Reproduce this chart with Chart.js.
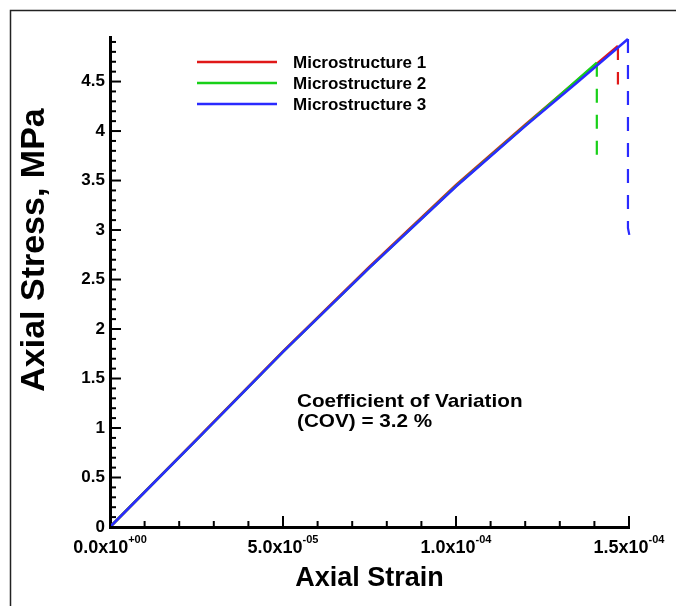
<!DOCTYPE html>
<html>
<head>
<meta charset="utf-8">
<script src="https://cdn.jsdelivr.net/npm/chart.js@4.4.1/dist/chart.umd.min.js"></script>
<style>
    html, body { margin: 0; padding: 0; background: #fff; }
</style>
</head>
<body>
<canvas id="chart" width="676" height="606"></canvas>
<script>
const seriesNames = ["Microstructure 1", "Microstructure 2", "Microstructure 3"];
const seriesColors = ["#e01818", "#18d018", "#2a2aff"];

// stress-strain curves
const strain1 = [0, 2.5e-5, 5e-5, 7.5e-5, 1.0e-4, 1.2e-4, 1.35e-4, 1.468e-4];
const stress1 = [0, 0.885, 1.775, 2.63, 3.455, 4.065, 4.51, 4.86];
const strain2 = [0, 2.5e-5, 5e-5, 7.5e-5, 1.0e-4, 1.2e-4, 1.407e-4];
const stress2 = [0, 0.88, 1.77, 2.62, 3.445, 4.055, 4.69];
const strain3 = [0, 2.5e-5, 5e-5, 7.5e-5, 1.0e-4, 1.2e-4, 1.35e-4, 1.497e-4];
const stress3 = [0, 0.88, 1.77, 2.62, 3.44, 4.05, 4.49, 4.93];

// failure drops (dashed)
const dropStrain1 = [1.468e-4, 1.468e-4];
const dropStress1 = [4.86, 4.47];
const dropStrain2 = [1.407e-4, 1.407e-4];
const dropStress2 = [4.69, 3.72];
const dropStrain3 = [1.497e-4, 1.497e-4, 1.505e-4];
const dropStress3 = [4.93, 3.02, 2.88];

const xTickValues = [0, 5e-5, 1.0e-4, 1.5e-4];
const xTickBases = ["0.0x10", "5.0x10", "1.0x10", "1.5x10"];
const xTickExps = ["+00", "-05", "-04", "-04"];

const noteLines = ["Coefficient of Variation", "(COV) = 3.2 %"];
const xTitle = "Axial Strain";
const yTitle = "Axial Stress, MPa";

const FONT = "'Liberation Sans', Arial, sans-serif";

const toPoints = (xs, ys) => xs.map((x, i) => ({ x: x, y: ys[i] }));
const isMultiple = (v, step) => Math.abs(v / step - Math.round(v / step)) < 1e-6;

// later series are drawn on top (lower order = on top in Chart.js)
const solid = (i, xs, ys) => ({
    label: seriesNames[i],
    data: toPoints(xs, ys),
    borderColor: seriesColors[i],
    borderWidth: 2.5,
    pointRadius: 0,
    tension: 0,
    clip: false,
    order: 3 - i
});
const dashed = (i, xs, ys) => ({
    label: seriesNames[i] + " drop",
    data: toPoints(xs, ys),
    borderColor: seriesColors[i],
    borderWidth: 2.2,
    borderDash: [14, 12],
    pointRadius: 0,
    tension: 0,
    clip: false,
    order: 3 - i
});

const decor = {
    id: "decor",
    beforeDraw(chart) {
        const c = chart.ctx;
        c.save();
        c.fillStyle = "#fff";
        c.fillRect(0, 0, chart.width, chart.height);
        c.strokeStyle = "#222";
        c.lineWidth = 1.5;
        c.beginPath();
        c.moveTo(10.5, chart.height);
        c.lineTo(10.5, 10.5);
        c.lineTo(chart.width, 10.5);
        c.stroke();
        c.restore();
    },
    afterDraw(chart) {
        const c = chart.ctx;
        const xs = chart.scales.x, ys = chart.scales.y, area = chart.chartArea;
        c.save();

        // inward ticks
        c.strokeStyle = "#000";
        c.lineWidth = 2;
        xs.ticks.forEach(t => {
            if (!isMultiple(t.value, 1e-5)) return;
            const px = xs.getPixelForValue(t.value);
            const len = isMultiple(t.value, 5e-5) ? 11 : 6;
            c.beginPath();
            c.moveTo(px, area.bottom);
            c.lineTo(px, area.bottom - len);
            c.stroke();
        });
        ys.ticks.forEach(t => {
            if (!isMultiple(t.value, 0.1)) return;
            const py = ys.getPixelForValue(t.value);
            const len = isMultiple(t.value, 0.5) ? 11 : 6;
            c.beginPath();
            c.moveTo(area.left, py);
            c.lineTo(area.left + len, py);
            c.stroke();
        });

        // x tick labels with exponents
        c.fillStyle = "#000";
        c.textBaseline = "alphabetic";
        c.textAlign = "left";
        xTickValues.forEach((v, i) => {
            const px = xs.getPixelForValue(v);
            c.font = "bold 18px " + FONT;
            const wb = c.measureText(xTickBases[i]).width;
            c.font = "bold 11px " + FONT;
            const we = c.measureText(xTickExps[i]).width;
            const x0 = px - (wb + we) / 2;
            c.font = "bold 18px " + FONT;
            c.fillText(xTickBases[i], x0, 553);
            c.font = "bold 11px " + FONT;
            c.fillText(xTickExps[i], x0 + wb, 543);
        });

        // axis titles
        c.textAlign = "center";
        c.textBaseline = "middle";
        c.font = "bold 27px " + FONT;
        c.fillText(xTitle, (area.left + area.right) / 2, 579);
        c.save();
        c.translate(35, 250);
        c.rotate(-Math.PI / 2);
        c.font = "bold 34px " + FONT;
        c.fillText(yTitle, 0, 0);
        c.restore();

        // legend
        const legendY = [62, 83, 104];
        c.font = "bold 17px " + FONT;
        c.textAlign = "left";
        seriesNames.forEach((name, i) => {
            c.strokeStyle = seriesColors[i];
            c.lineWidth = 2.5;
            c.beginPath();
            c.moveTo(197, legendY[i]);
            c.lineTo(277, legendY[i]);
            c.stroke();
            c.fillStyle = "#000";
            c.fillText(name, 293, legendY[i] + 1);
        });

        // annotation
        c.textBaseline = "alphabetic";
        c.font = "bold 19px " + FONT;
        c.save();
        c.translate(297, 0);
        c.scale(1.09, 1);
        c.fillText(noteLines[0], 0, 407);
        c.fillText(noteLines[1], 0, 427);
        c.restore();
        c.restore();
    }
};

let ctx = document.getElementById("chart");
const chartConfig = {
    type: "line",
    data: {
        datasets: [
            solid(0, strain1, stress1),
            solid(1, strain2, stress2),
            solid(2, strain3, stress3),
            dashed(0, dropStrain1, dropStress1),
            dashed(1, dropStrain2, dropStress2),
            dashed(2, dropStrain3, dropStress3)
        ]
    },
    options: {
        responsive: false,
        animation: false,
        devicePixelRatio: 1,
        layout: { padding: { top: 37, right: 47, left: 0, bottom: 0 } },
        plugins: {
            legend: { display: false },
            tooltip: { enabled: false }
        },
        scales: {
            x: {
                type: "linear",
                min: 0,
                max: 1.5e-4,
                afterFit: (scale) => { scale.height = 79; },
                ticks: { stepSize: 1e-5, display: false, includeBounds: false },
                grid: { drawOnChartArea: false, drawTicks: false },
                border: { display: true, color: "#000", width: 3 }
            },
            y: {
                type: "linear",
                min: 0,
                max: 4.95,
                afterFit: (scale) => { scale.width = 110; },
                ticks: {
                    stepSize: 0.1,
                    autoSkip: false,
                    includeBounds: false,
                    padding: 5,
                    color: "#000",
                    font: { family: FONT, size: 17, weight: "bold" },
                    callback: (v) => isMultiple(v, 0.5) ? String(+v.toFixed(1)) : ""
                },
                grid: { drawOnChartArea: false, drawTicks: false },
                border: { display: true, color: "#000", width: 3 }
            }
        }
    },
    plugins: [decor]
};
let chart = new Chart(ctx, chartConfig);
</script>
</body>
</html>
